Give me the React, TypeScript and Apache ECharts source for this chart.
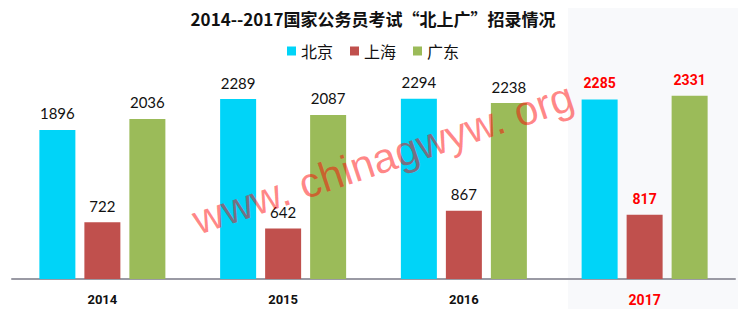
import React, { useEffect, useRef } from "react";
import * as echarts from "echarts";

const years = ["2014", "2015", "2016", "2017"];
const beijing = [1896, 2289, 2294, 2285];
const shanghai = [722, 642, 867, 817];
const guangdong = [2036, 2087, 2238, 2331];
const seriesNames = ["北京", "上海", "广东"];
const colors = ["#00d4f8", "#c0504d", "#9bbb59"];
const highlightYear = "2017";

export default function App() {
  const ref = useRef<HTMLDivElement>(null);
  useEffect(() => {
    if (!ref.current) return;
    const chart = echarts.init(ref.current, undefined, { renderer: "svg" });
    const normalLabel = {
      show: true,
      position: "top",
      distance: 9,
      color: "#111",
      fontSize: 15,
      fontFamily: "Lato, 'Open Sans', sans-serif",
    };
    const hiLabel = {
      color: "#ff0000",
      fontSize: 14,
      fontWeight: "bold",
      fontFamily: "'Liberation Sans Narrow', 'Roboto', sans-serif",
    };
    const mk = (vals: number[]) =>
      vals.map((v, i) =>
        years[i] === highlightYear ? { value: v, label: hiLabel } : v
      );
    const all = [beijing, shanghai, guangdong];
    chart.setOption({
      animation: false,
      backgroundColor: "#ffffff",
      title: {
        text: "2014--2017国家公务员考试“北上广”招录情况",
        left: "center",
        top: 5,
        textStyle: {
          fontFamily: "'Noto Sans CJK SC', sans-serif",
          fontSize: 17,
          fontWeight: "bold",
          color: "#111",
        },
      },
      legend: {
        data: seriesNames,
        top: 38,
        left: "center",
        icon: "rect",
        itemWidth: 9,
        itemHeight: 9,
        itemGap: 17,
        textStyle: {
          fontFamily: "'Noto Sans CJK SC', sans-serif",
          fontSize: 16,
          color: "#111",
        },
      },
      grid: { left: 12, right: 11, top: 82.5, bottom: 38 },
      xAxis: {
        type: "category",
        data: years.map((y) =>
          y === highlightYear
            ? { value: y, textStyle: { color: "#ff0000", fontSize: 14 } }
            : y
        ),
        axisLine: { lineStyle: { color: "#9a9aa4", width: 2 } },
        axisTick: { show: false },
        axisLabel: {
          margin: 14,
          fontSize: 13,
          fontWeight: "bold",
          color: "#111",
          fontFamily: "'Liberation Sans Narrow', Roboto, sans-serif",
        },
      },
      yAxis: {
        type: "value",
        min: 0,
        max: 2500,
        show: false,
        splitLine: { show: false },
      },
      graphic: [
        {
          type: "rect",
          z: -10,
          shape: { x: 568, y: 0, width: 178, height: 317 },
          style: { fill: "#f8f9fb" },
          silent: true,
        },
        {
          type: "text",
          z: 100,
          x: 383,
          y: 158,
          rotation: (18.5 * Math.PI) / 180,
          style: {
            text: "www. chinagwyw. org",
            fill: "rgba(255,0,0,0.48)",
            font: "42px 'Liberation Sans', Arial, sans-serif",
            align: "center",
            verticalAlign: "middle",
          },
          silent: true,
        },
      ],
      series: all.map((vals, k) => ({
        name: seriesNames[k],
        type: "bar",
        data: mk(vals),
        barWidth: 36,
        barGap: "25%",
        barCategoryGap: "30%",
        itemStyle: { color: colors[k] },
        label: normalLabel,
      })),
    });
    return () => chart.dispose();
  }, []);
  return <div ref={ref} style={{ width: 746, height: 317, margin: -8 }} />;
}
